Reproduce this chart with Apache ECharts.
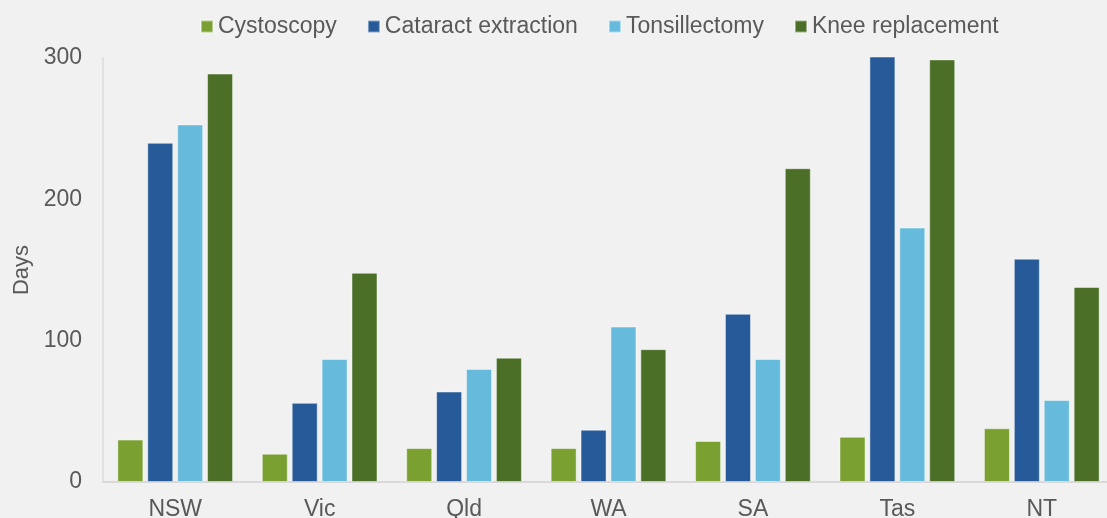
<!DOCTYPE html>
<html>
<head>
<meta charset="utf-8">
<script src="https://cdn.jsdelivr.net/npm/echarts@6/dist/echarts.min.js"></script>
<style>
html,body{margin:0;padding:0;background:#f1f1f1;}
#c{width:1107px;height:518px;}
</style>
</head>
<body>
<div id="c"></div>
<script>
const categories = ['NSW','Vic','Qld','WA','SA','Tas','NT'];
const cystoscopy = [30, 20, 24, 24, 29, 32, 38];
const cataract = [240, 56, 64, 37, 119, 301, 158];
const tonsillectomy = [253, 87, 80, 110, 87, 180, 58];
const knee = [289, 148, 88, 94, 222, 299, 138];
const yTicks = [0, 100, 200, 300];

const font = '"Liberation Sans", Arial, sans-serif';
const txt = '#595959';
function mk(name, data, color){
  return {name, type:'bar', data, barWidth:26, barGap:'15%', clip:false,
    itemStyle:{color, borderColor:'rgba(255,255,255,0.45)', borderWidth:1}};
}
const chart = echarts.init(document.getElementById('c'));
chart.setOption({
  backgroundColor:'#f1f1f1',
  animation:false,
  textStyle:{fontFamily:font},
  legend:{left:195, top:10, itemWidth:12, itemHeight:12, itemGap:30,
    icon:'rect',
    textStyle:{fontSize:23, color:txt, fontFamily:font}},
  grid:{left:103, top:58, right:-7, bottom:36, outerBoundsMode:'none', containLabel:false},
  xAxis:{type:'category', data:categories,
    axisLine:{lineStyle:{color:'#d9d9d9', width:2}},
    axisTick:{show:false},
    axisLabel:{fontSize:23, color:txt, margin:16, fontFamily:font}},
  yAxis:{type:'value', min:0, max:300, interval:100,
    name:'Days', nameLocation:'middle', nameGap:68, nameRotate:90,
    nameTextStyle:{fontSize:22, color:txt, fontFamily:font},
    axisLine:{show:true, lineStyle:{color:'#e0e0e0', width:2}},
    axisTick:{show:false},
    splitLine:{show:false},
    axisLabel:{fontSize:23, color:txt, margin:21, fontFamily:font,
      formatter: v => yTicks.includes(v) ? String(v) : ''}},
  series:[
    mk('Cystoscopy', cystoscopy, '#79a030'),
    mk('Cataract extraction', cataract, '#265a98'),
    mk('Tonsillectomy', tonsillectomy, '#66bbdc'),
    mk('Knee replacement', knee, '#4b6f27')
  ]
});
</script>
</body>
</html>
